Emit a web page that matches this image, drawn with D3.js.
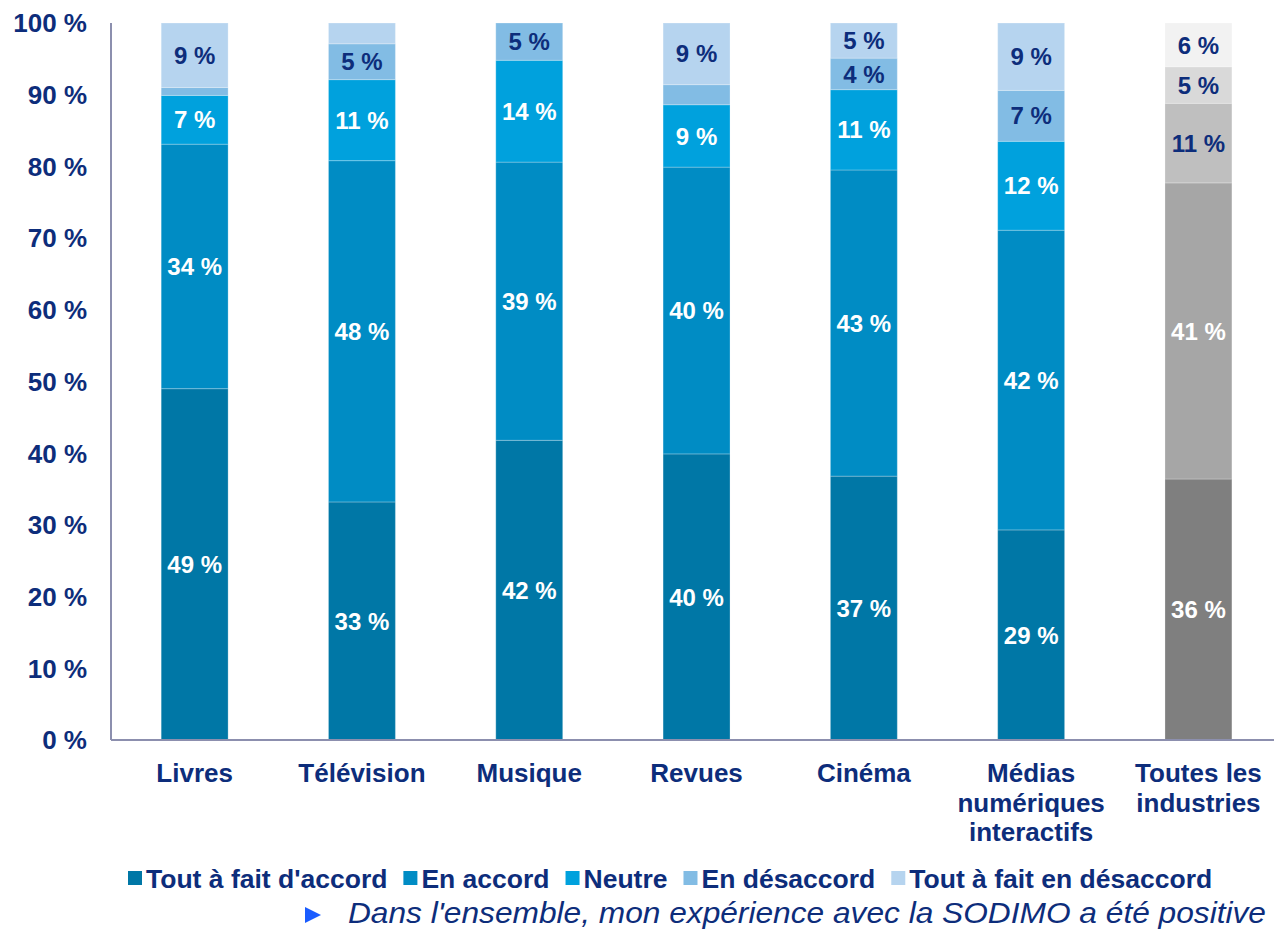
<!DOCTYPE html>
<html>
<head>
<meta charset="utf-8">
<script src="https://cdn.jsdelivr.net/npm/d3@7"></script>
<style>
  body { margin: 0; background: #fff; }
  svg { display: block; font-family: "Liberation Sans", Arial, sans-serif; }
</style>
</head>
<body>
<svg width="1274" height="931"></svg>
<script>
// categories and series (percent)
const categories = ["Livres", "Télévision", "Musique", "Revues", "Cinéma", "Médias numériques interactifs", "Toutes les industries"];
const catLines = [["Livres"], ["Télévision"], ["Musique"], ["Revues"], ["Cinéma"], ["Médias", "numériques", "interactifs"], ["Toutes les", "industries"]];
const series = ["Tout à fait d'accord", "En accord", "Neutre", "En désaccord", "Tout à fait en désaccord"];
const toutAFaitAccord = [49, 33.2, 41.8, 39.9, 36.8, 29.3, 36.4];
const enAccord        = [34.1, 47.6, 38.8, 40.0, 42.7, 41.8, 41.3];
const neutre          = [6.8, 11.3, 14.2, 8.7, 11.2, 12.4, 11.1];
const enDesaccord     = [1.1, 5.0, 5.2, 2.8, 4.4, 7.1, 5.1];
const toutDesaccord   = [9.0, 2.9, 0, 8.6, 4.9, 9.4, 6.1];
const yTicks = [0, 10, 20, 30, 40, 50, 60, 70, 80, 90, 100];

const blueColors = ["#0077a6", "#008cc4", "#00a1dd", "#82bce4", "#b6d4ef"];
const greyColors = ["#7f7f7f", "#a6a6a6", "#bfbfbf", "#d9d9d9", "#f2f2f2"];
const navy = "#0d2d7b";
const blueLabelColors = ["#fff", "#fff", "#fff", navy, navy];
const greyLabelColors = ["#fff", "#fff", navy, navy, navy];

const svg = d3.select("svg");
const margin = {left: 111, top: 23, bottom: 191};
const height = 931;

const x = d3.scaleBand()
    .domain(categories)
    .range([margin.left, margin.left + 7 * 167.3])
    .paddingInner(0.6)
    .paddingOuter(0.3);

const y = d3.scaleLinear()
    .domain([0, 100])
    .range([height - margin.bottom, margin.top]);

// stack the series
const rows = categories.map((c, i) => ({
  cat: c, idx: i,
  s0: toutAFaitAccord[i], s1: enAccord[i], s2: neutre[i], s3: enDesaccord[i], s4: toutDesaccord[i]
}));
const stacked = d3.stack().keys(["s0", "s1", "s2", "s3", "s4"])(rows);

stacked.forEach((layer, k) => {
  const g = svg.append("g");
  g.selectAll("rect")
    .data(layer)
    .enter()
    .append("rect")
    .attr("x", d => x(d.data.cat))
    .attr("width", x.bandwidth())
    .attr("y", d => y(d[1]))
    .attr("height", d => y(d[0]) - y(d[1]))
    .attr("fill", d => d.data.idx === 6 ? greyColors[k] : blueColors[k])
    .attr("stroke", "rgba(255,255,255,0.25)")
    .attr("stroke-width", 1);

  g.selectAll("text")
    .data(layer.filter(d => d[1] - d[0] >= 3.5))
    .enter()
    .append("text")
    .attr("x", d => x(d.data.cat) + x.bandwidth() / 2)
    .attr("y", d => y((d[0] + d[1]) / 2))
    .attr("dy", "0.36em")
    .attr("text-anchor", "middle")
    .style("font-size", "24px")
    .style("font-weight", "bold")
    .attr("fill", d => d.data.idx === 6 ? greyLabelColors[k] : blueLabelColors[k])
    .text(d => Math.round(d[1] - d[0]) + " %");
});

// axes
svg.append("line")
  .attr("x1", margin.left).attr("x2", 1274)
  .attr("y1", y(0)).attr("y2", y(0))
  .attr("stroke", "#8c8fae").attr("stroke-width", 2);
svg.append("line")
  .attr("x1", margin.left).attr("x2", margin.left)
  .attr("y1", y(0)).attr("y2", y(100))
  .attr("stroke", "#8c8fae").attr("stroke-width", 2);

svg.append("g").selectAll("text")
  .data(yTicks)
  .enter()
  .append("text")
  .attr("x", 87)
  .attr("y", d => y(d))
  .attr("dy", "0.36em")
  .attr("text-anchor", "end")
  .style("font-size", "26px")
  .style("font-weight", "bold")
  .attr("fill", navy)
  .text(d => d + " %");

// category labels
const catG = svg.append("g").selectAll("text")
  .data(categories)
  .enter()
  .append("text")
  .attr("x", d => x(d) + x.bandwidth() / 2)
  .attr("y", 782)
  .attr("text-anchor", "middle")
  .style("font-size", "26px")
  .style("font-weight", "bold")
  .attr("fill", navy);
catG.selectAll("tspan")
  .data((d, i) => catLines[i])
  .enter()
  .append("tspan")
  .attr("x", function() { return this.parentNode.getAttribute("x"); })
  .attr("dy", (d, j) => j === 0 ? 0 : 29.5)
  .text(d => d);

// legend
const legend = svg.append("g").attr("transform", "translate(128,878)");
let lx = 0;
series.forEach((s, k) => {
  const item = legend.append("g").attr("transform", `translate(${lx},0)`);
  item.append("rect")
    .attr("x", 0).attr("y", -7).attr("width", 14).attr("height", 14)
    .attr("fill", blueColors[k]);
  const t = item.append("text")
    .attr("x", 18).attr("dy", "0.36em")
    .style("font-size", "26.5px").style("font-weight", "bold")
    .attr("fill", navy)
    .text(s);
  lx += 18 + t.node().getComputedTextLength() + 16;
});

// subtitle
svg.append("path")
  .attr("d", "M305,907 L321,915 L305,923 Z")
  .attr("fill", "#1a5cff");
svg.append("text")
  .attr("x", 348).attr("y", 923)
  .attr("textLength", 918)
  .attr("lengthAdjust", "spacingAndGlyphs")
  .style("font-size", "30px")
  .style("font-style", "italic")
  .attr("fill", navy)
  .text("Dans l'ensemble, mon expérience avec la SODIMO a été positive");
</script>
</body>
</html>
